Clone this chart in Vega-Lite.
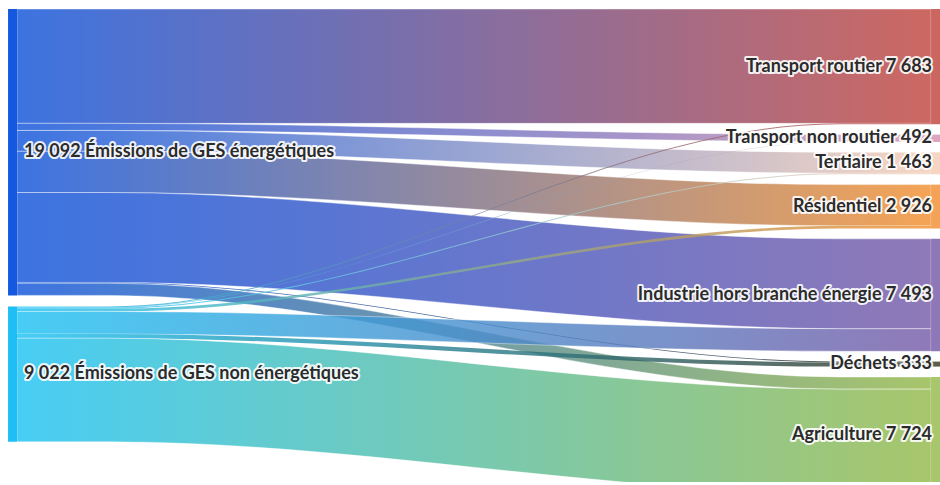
{
  "$schema": "https://vega.github.io/schema/vega-lite/v6.json",
  "width": 940,
  "height": 482,
  "autosize": {"type": "none"},
  "padding": {"left": 0, "top": 0, "right": 0, "bottom": 3},
  "background": "white",
  "config": {"view": {"stroke": null}},
  "datasets": {
    "links": [
      {"source": "Émissions de GES énergétiques", "target": "Transport routier", "value": 7623},
      {"source": "Émissions de GES énergétiques", "target": "Transport non routier", "value": 472},
      {"source": "Émissions de GES énergétiques", "target": "Tertiaire", "value": 1393},
      {"source": "Émissions de GES énergétiques", "target": "Résidentiel", "value": 2746},
      {"source": "Émissions de GES énergétiques", "target": "Industrie hors branche énergie", "value": 5993},
      {"source": "Émissions de GES énergétiques", "target": "Déchets", "value": 53},
      {"source": "Émissions de GES énergétiques", "target": "Agriculture", "value": 812},
      {"source": "Émissions de GES non énergétiques", "target": "Transport routier", "value": 60},
      {"source": "Émissions de GES non énergétiques", "target": "Transport non routier", "value": 20},
      {"source": "Émissions de GES non énergétiques", "target": "Tertiaire", "value": 70},
      {"source": "Émissions de GES non énergétiques", "target": "Résidentiel", "value": 180},
      {"source": "Émissions de GES non énergétiques", "target": "Industrie hors branche énergie", "value": 1500},
      {"source": "Émissions de GES non énergétiques", "target": "Déchets", "value": 280},
      {"source": "Émissions de GES non énergétiques", "target": "Agriculture", "value": 6912}
    ]
  },
  "data": {"name": "links"},
  "transform": [
    {"calculate": "indexof(['Émissions de GES énergétiques', 'Émissions de GES non énergétiques'], datum.source)", "as": "si"},
    {"calculate": "indexof(['Transport routier', 'Transport non routier', 'Tertiaire', 'Résidentiel', 'Industrie hors branche énergie', 'Déchets', 'Agriculture'], datum.target)", "as": "ti"},
    {"window": [{"op": "sum", "field": "value", "as": "lcum"}], "sort": [{"field": "si"}, {"field": "ti"}], "frame": [null, 0]},
    {"window": [{"op": "sum", "field": "value", "as": "rcum"}], "sort": [{"field": "ti"}, {"field": "si"}], "frame": [null, 0]},
    {"calculate": "600 + 740 * datum.si + datum.lcum", "as": "lb"},
    {"calculate": "datum.lb - datum.value", "as": "lt"},
    {"calculate": "600 + 690 * datum.ti + datum.rcum", "as": "rb"},
    {"calculate": "datum.rb - datum.value", "as": "rt"}
  ],
  "layer": [
    {
      "transform": [
        {"calculate": "[0, 0.1, 0.9, 1]", "as": "xs"},
        {"flatten": ["xs"]},
        {"calculate": "datum.xs < 0.5 ? datum.lt : datum.rt", "as": "yt"},
        {"calculate": "datum.xs < 0.5 ? datum.lb : datum.rb", "as": "yb"}
      ],
      "encoding": {
        "x": {"field": "xs", "type": "quantitative", "scale": {"domain": [-0.0186, 1.0098], "nice": false, "zero": false}, "axis": null},
        "y": {"field": "yt", "type": "quantitative", "scale": {"domain": [0, 32133], "reverse": true, "nice": false, "zero": false}, "axis": null},
        "y2": {"field": "yb"}
      },
      "layer": [
        {"transform": [{"filter": "datum.si == 0 && datum.ti == 0"}], "mark": {"type": "area", "clip": true, "interpolate": "monotone", "fillOpacity": 0.82, "stroke": "white", "strokeWidth": 0.6, "strokeOpacity": 0.7, "color": {"gradient": "linear", "stops": [{"offset": 0, "color": "#1255da"}, {"offset": 1, "color": "#c2473f"}]}}},
        {"transform": [{"filter": "datum.si == 0 && datum.ti == 1"}], "mark": {"type": "area", "clip": true, "interpolate": "monotone", "fillOpacity": 0.82, "stroke": "white", "strokeWidth": 0.6, "strokeOpacity": 0.7, "color": {"gradient": "linear", "stops": [{"offset": 0, "color": "#1255da"}, {"offset": 1, "color": "#d392ae"}]}}},
        {"transform": [{"filter": "datum.si == 0 && datum.ti == 2"}], "mark": {"type": "area", "clip": true, "interpolate": "monotone", "fillOpacity": 0.82, "stroke": "white", "strokeWidth": 0.6, "strokeOpacity": 0.7, "color": {"gradient": "linear", "stops": [{"offset": 0, "color": "#1255da"}, {"offset": 1, "color": "#f4cdb6"}]}}},
        {"transform": [{"filter": "datum.si == 0 && datum.ti == 3"}], "mark": {"type": "area", "clip": true, "interpolate": "monotone", "fillOpacity": 0.82, "stroke": "white", "strokeWidth": 0.6, "strokeOpacity": 0.7, "color": {"gradient": "linear", "stops": [{"offset": 0, "color": "#1255da"}, {"offset": 1, "color": "#f29030"}]}}},
        {"transform": [{"filter": "datum.si == 0 && datum.ti == 4"}], "mark": {"type": "area", "clip": true, "interpolate": "monotone", "fillOpacity": 0.82, "stroke": "white", "strokeWidth": 0.6, "strokeOpacity": 0.7, "color": {"gradient": "linear", "stops": [{"offset": 0, "color": "#1255da"}, {"offset": 1, "color": "#775ca8"}]}}},
        {"transform": [{"filter": "datum.si == 0 && datum.ti == 5"}], "mark": {"type": "area", "clip": true, "interpolate": "monotone", "fillOpacity": 0.82, "color": {"gradient": "linear", "stops": [{"offset": 0, "color": "#1255da"}, {"offset": 1, "color": "#393926"}]}}},
        {"transform": [{"filter": "datum.si == 0 && datum.ti == 6"}], "mark": {"type": "area", "clip": true, "interpolate": "monotone", "fillOpacity": 0.82, "stroke": "white", "strokeWidth": 0.6, "strokeOpacity": 0.7, "color": {"gradient": "linear", "stops": [{"offset": 0, "color": "#1255da"}, {"offset": 1, "color": "#95b94a"}]}}},
        {"transform": [{"filter": "datum.si == 1 && datum.ti == 0"}], "mark": {"type": "area", "clip": true, "interpolate": "monotone", "fillOpacity": 0.82, "color": {"gradient": "linear", "stops": [{"offset": 0, "color": "#1fc2f3"}, {"offset": 1, "color": "#c2473f"}]}}},
        {"transform": [{"filter": "datum.si == 1 && datum.ti == 1"}], "mark": {"type": "area", "clip": true, "interpolate": "monotone", "fillOpacity": 0.82, "color": {"gradient": "linear", "stops": [{"offset": 0, "color": "#1fc2f3"}, {"offset": 1, "color": "#d392ae"}]}}},
        {"transform": [{"filter": "datum.si == 1 && datum.ti == 2"}], "mark": {"type": "area", "clip": true, "interpolate": "monotone", "fillOpacity": 0.82, "color": {"gradient": "linear", "stops": [{"offset": 0, "color": "#1fc2f3"}, {"offset": 1, "color": "#f4cdb6"}]}}},
        {"transform": [{"filter": "datum.si == 1 && datum.ti == 3"}], "mark": {"type": "area", "clip": true, "interpolate": "monotone", "fillOpacity": 0.82, "color": {"gradient": "linear", "stops": [{"offset": 0, "color": "#1fc2f3"}, {"offset": 1, "color": "#f29030"}]}}},
        {"transform": [{"filter": "datum.si == 1 && datum.ti == 4"}], "mark": {"type": "area", "clip": true, "interpolate": "monotone", "fillOpacity": 0.82, "stroke": "white", "strokeWidth": 0.6, "strokeOpacity": 0.7, "color": {"gradient": "linear", "stops": [{"offset": 0, "color": "#1fc2f3"}, {"offset": 1, "color": "#775ca8"}]}}},
        {"transform": [{"filter": "datum.si == 1 && datum.ti == 5"}], "mark": {"type": "area", "clip": true, "interpolate": "monotone", "fillOpacity": 0.82, "color": {"gradient": "linear", "stops": [{"offset": 0, "color": "#1fc2f3"}, {"offset": 1, "color": "#393926"}]}}},
        {"transform": [{"filter": "datum.si == 1 && datum.ti == 6"}], "mark": {"type": "area", "clip": true, "interpolate": "monotone", "fillOpacity": 0.82, "stroke": "white", "strokeWidth": 0.6, "strokeOpacity": 0.7, "color": {"gradient": "linear", "stops": [{"offset": 0, "color": "#1fc2f3"}, {"offset": 1, "color": "#95b94a"}]}}}
      ]
    },
    {
      "transform": [
        {"aggregate": [{"op": "min", "field": "lt", "as": "top"}, {"op": "max", "field": "lb", "as": "bot"}, {"op": "sum", "field": "value", "as": "total"}], "groupby": ["source"]},
        {"calculate": "(datum.top + datum.bot) / 2", "as": "mid"},
        {"calculate": "replace(format(datum.total, ','), ',', ' ') + ' ' + datum.source", "as": "lab"}
      ],
      "layer": [
        {
          "mark": {"type": "rect", "clip": true},
          "encoding": {
            "x": {"datum": -0.0098, "type": "quantitative"},
            "x2": {"datum": 0},
            "y": {"field": "top", "type": "quantitative"},
            "y2": {"field": "bot"},
            "color": {"field": "source", "type": "nominal", "legend": null,
              "scale": {
                "domain": ["Émissions de GES énergétiques", "Émissions de GES non énergétiques", "Transport routier", "Transport non routier", "Tertiaire", "Résidentiel", "Industrie hors branche énergie", "Déchets", "Agriculture"],
                "range": ["#1558e0", "#1ebef6", "#cb6660", "#dba6bd", "#f6d6c3", "#f4a258", "#8f78b8", "#5d5d4d", "#a8c66b"]
              }}
          }
        },
        {
          "mark": {"type": "text", "align": "left", "baseline": "middle", "dx": 7, "font": "Lato", "fontSize": 18, "fontWeight": "bold", "stroke": "white", "strokeWidth": 4, "strokeJoin": "round", "strokeOpacity": 0.9, "fill": "white"},
          "encoding": {"x": {"datum": 0, "type": "quantitative"}, "y": {"field": "mid", "type": "quantitative"}, "text": {"field": "lab"}}
        },
        {
          "mark": {"type": "text", "align": "left", "baseline": "middle", "dx": 7, "font": "Lato", "fontSize": 18, "fontWeight": "bold", "fill": "#2b2b2b"},
          "encoding": {"x": {"datum": 0, "type": "quantitative"}, "y": {"field": "mid", "type": "quantitative"}, "text": {"field": "lab"}}
        }
      ]
    },
    {
      "transform": [
        {"aggregate": [{"op": "min", "field": "rt", "as": "top"}, {"op": "max", "field": "rb", "as": "bot"}, {"op": "sum", "field": "value", "as": "total"}], "groupby": ["target"]},
        {"calculate": "(datum.top + datum.bot) / 2", "as": "mid"},
        {"calculate": "datum.target + ' ' + replace(format(datum.total, ','), ',', ' ')", "as": "lab"}
      ],
      "layer": [
        {
          "mark": {"type": "rect", "clip": true},
          "encoding": {
            "x": {"datum": 1, "type": "quantitative"},
            "x2": {"datum": 1.0098},
            "y": {"field": "top", "type": "quantitative"},
            "y2": {"field": "bot"},
            "color": {"field": "target", "type": "nominal", "legend": null}
          }
        },
        {
          "mark": {"type": "text", "align": "right", "baseline": "middle", "dx": 1, "font": "Lato", "fontSize": 18, "fontWeight": "bold", "stroke": "white", "strokeWidth": 4, "strokeJoin": "round", "strokeOpacity": 0.9, "fill": "white"},
          "encoding": {"x": {"datum": 1, "type": "quantitative"}, "y": {"field": "mid", "type": "quantitative"}, "text": {"field": "lab"}}
        },
        {
          "mark": {"type": "text", "align": "right", "baseline": "middle", "dx": 1, "font": "Lato", "fontSize": 18, "fontWeight": "bold", "fill": "#2b2b2b"},
          "encoding": {"x": {"datum": 1, "type": "quantitative"}, "y": {"field": "mid", "type": "quantitative"}, "text": {"field": "lab"}}
        }
      ]
    }
  ]
}
